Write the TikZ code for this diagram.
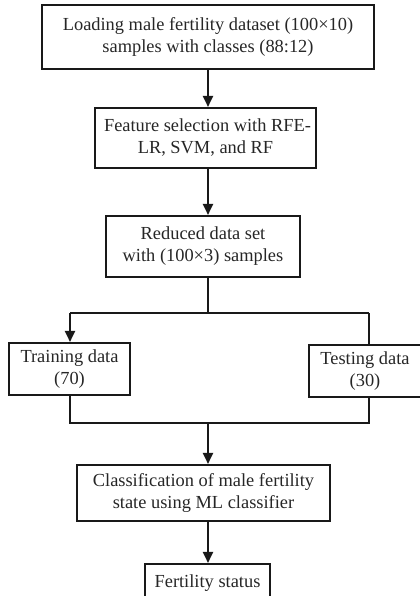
\documentclass[tikz,border=0pt]{standalone}
\usepackage{fontspec}
\setmainfont{Liberation Serif}
\usetikzlibrary{arrows.meta}
\begin{document}
\begin{tikzpicture}[x=1bp,y=-1bp,
  box/.style={draw=black!90,line width=2.1bp,inner sep=0pt,align=center,
    font=\fontsize{18.4bp}{22bp}\selectfont,text=black!85},
  conn/.style={draw=black!90,line width=2bp},
  arr/.style={conn,-{Triangle[length=11bp,width=10bp]}}]
\useasboundingbox (0,0) rectangle (419,596);
\node[box,minimum width=332bp,minimum height=64bp] (b1) at (208,37)
  {Loading male fertility dataset (100×10)\\samples with classes (88:12)};
\node[box,minimum width=221bp,minimum height=60bp] (b2) at (205.5,138)
  {\hspace*{4bp}Feature selection with RFE-\\LR, SVM, and RF};
\node[box,minimum width=194bp,minimum height=61bp] (b3) at (203,246.5)
  {Reduced data set\\with (100×3) samples};
\node[box,minimum width=121bp,minimum height=52bp] (tr) at (69.5,369)
  {Training data\\(70)};
\node[box,minimum width=112bp,minimum height=52bp] (te) at (365,371)
  {Testing data\\(30)};
\node[box,minimum width=253bp,minimum height=56bp] (b5) at (203.5,493)
  {Classification of male fertility\\state using ML classifier};
\node[box,minimum width=125bp,minimum height=40bp,text depth=6bp] (b6) at (207.5,584)
  {Fertility status};
\coordinate (split) at (208,313);
\coordinate (join) at (208,423);
\coordinate (sl) at (70,313);
\coordinate (sr) at (369,313);
\coordinate (jl) at (70,423);
\coordinate (jr) at (369,423);
\draw[arr] (b1.south) -- (b1.south |- b2.north);
\draw[arr] (b1.south |- b2.south) -- (b1.south |- b3.north);
\draw[conn] (b1.south |- b3.south) -- (split);
\draw[conn] (sl) -- (sr);
\draw[arr] (sl) -- (sl |- tr.north);
\draw[conn] (sr) -- (sr |- te.north);
\draw[conn] (jl |- tr.south) -- (jl) -- (jr) -- (jr |- te.south);
\draw[arr] (join) -- (join |- b5.north);
\draw[arr] (join |- b5.south) -- (join |- b6.north);
\end{tikzpicture}
\end{document}
